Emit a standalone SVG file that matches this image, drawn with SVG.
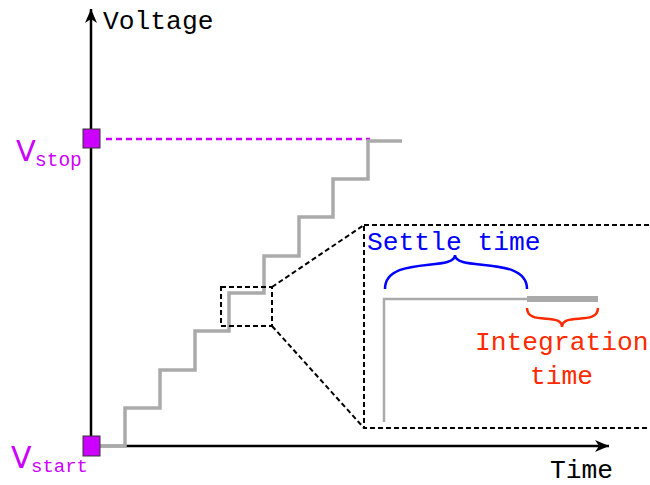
<svg xmlns="http://www.w3.org/2000/svg" width="650" height="485" viewBox="0 0 650 485">
<style>
.mono{font-family:"Liberation Mono","DejaVu Sans Mono",monospace;}
.sans{font-family:"DejaVu Sans","Liberation Sans",sans-serif;}
.lbl{font-size:26.3px;}
.axis{stroke:#000;stroke-width:2.5;fill:none;}
.dash{stroke:#000;stroke-width:2;fill:none;stroke-dasharray:5,3;}
.step{stroke:#aaaaaa;stroke-width:3.5;fill:none;}
.marker{fill:#cc00ff;stroke:#333;stroke-width:1;}
.purple{fill:#cc00ff;}
</style>
<defs>
<marker id="arr" markerWidth="20" markerHeight="20" viewBox="-2 -8 20 16" refX="14" refY="0" orient="auto" markerUnits="userSpaceOnUse">
<path d="M0,-6 L14,0 L0,6 L4,0 Z" fill="#000"/>
</marker>
</defs>
<g id="connectors">
<line class="axis" x1="91" y1="446" x2="91" y2="9" marker-end="url(#arr)"/>
<line class="axis" x1="91" y1="446" x2="609" y2="446" marker-end="url(#arr)"/>
<line x1="106" y1="139" x2="370" y2="139" stroke="#cc00ff" stroke-width="2.5" stroke-dasharray="6,4"/>
<path class="step" d="M100,446 H125 V408 H160 V370 H195 V331 H229 V293 H264 V256 H299 V217 H333 V179 H368 V141 H402"/>
<rect class="dash" x="221" y="287" width="51" height="39"/>
<line class="dash" x1="272" y1="287" x2="364" y2="225"/>
<line class="dash" x1="272" y1="326" x2="364" y2="428"/>
<rect class="dash" x="364" y="225" width="300" height="203"/>
<path d="M384,422 V299 H527" stroke="#aaaaaa" stroke-width="2.5" fill="none"/>
<line x1="527" y1="299" x2="598" y2="299" stroke="#aaaaaa" stroke-width="6"/>
<path d="M385,289 C385,255 455,272 455,255 C455,272 527,255 527,289" stroke="#0000ff" stroke-width="2.5" fill="none"/>
<path d="M527,308 C527,326 562,312 562,327 C562,312 598,326 598,308" stroke="#ff2a00" stroke-width="2.5" fill="none"/>
</g>
<g id="vstop">
<rect class="marker" x="83" y="129" width="17" height="19"/>
<text class="sans purple" x="16" y="161" font-size="29">V</text>
<text class="mono purple" x="35" y="166" font-size="19.5">stop</text>
</g>
<g id="vstart">
<rect class="marker" x="83" y="436" width="17" height="20"/>
<text class="sans purple" x="11" y="468" font-size="30">V</text>
<text class="mono purple" x="31" y="472" font-size="19">start</text>
</g>
<text class="mono lbl" x="103" y="29" fill="#000">Voltage</text>
<text class="mono lbl" x="550" y="478" fill="#000">Time</text>
<text class="mono lbl" x="367" y="250" fill="#0000ff">Settle time</text>
<text class="mono lbl" x="475" y="350" fill="#ff2a00">Integration</text>
<text class="mono lbl" x="530" y="384" fill="#ff2a00">time</text>
</svg>
